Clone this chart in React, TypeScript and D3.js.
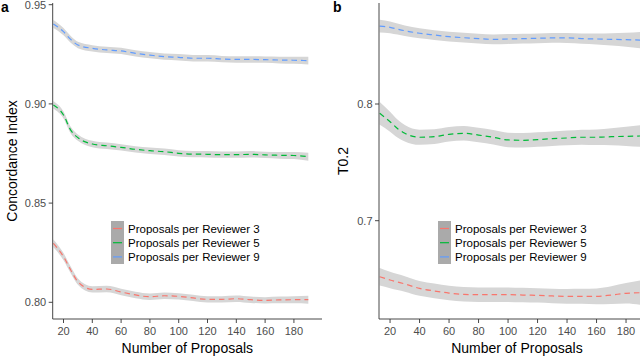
import React from "react";
import * as d3 from "d3";

// number of proposals (x) at which the smoothed curves were read
const proposals = [13, 20, 25, 30, 40, 50, 60, 70, 80, 90, 100, 110, 120, 130, 140, 150, 160, 170, 180, 190];

// panel a: concordance index
const ciR3 = [0.8297, 0.823, 0.8163, 0.8104, 0.8065, 0.8067, 0.8052, 0.8037, 0.8028, 0.8033, 0.803, 0.8022, 0.8015, 0.8015, 0.8018, 0.8013, 0.801, 0.8012, 0.8013, 0.8013];
const ciR5 = [0.8995, 0.8944, 0.8868, 0.883, 0.8798, 0.8789, 0.8781, 0.8771, 0.8764, 0.8759, 0.8751, 0.8747, 0.8746, 0.8744, 0.8744, 0.8746, 0.8743, 0.8741, 0.874, 0.8734];
const ciR9 = [0.9403, 0.9364, 0.9325, 0.9297, 0.928, 0.9272, 0.9267, 0.9255, 0.9246, 0.9238, 0.9235, 0.923, 0.923, 0.9226, 0.9224, 0.9224, 0.9223, 0.9221, 0.922, 0.9218];
const ciSe = [0.002, 0.0018, 0.0017, 0.0016, 0.0016, 0.0016, 0.0016, 0.0016, 0.0016, 0.0016, 0.0016, 0.0016, 0.0016, 0.0016, 0.0016, 0.0016, 0.0016, 0.0017, 0.0018, 0.002];

// panel b: T0.2
const tR3 = [0.652, 0.6492, 0.6475, 0.6458, 0.642, 0.6398, 0.638, 0.6369, 0.6366, 0.6366, 0.6366, 0.6363, 0.636, 0.6355, 0.6352, 0.6352, 0.6352, 0.6363, 0.6378, 0.6383];
const tR3Se = [0.0075, 0.007, 0.0068, 0.0066, 0.0064, 0.0063, 0.0062, 0.0062, 0.0062, 0.0062, 0.0062, 0.0062, 0.0062, 0.0062, 0.0063, 0.0064, 0.0068, 0.0076, 0.0088, 0.0105];
const tR5 = [0.792, 0.7848, 0.779, 0.7749, 0.7715, 0.772, 0.774, 0.7749, 0.7734, 0.7715, 0.7692, 0.7689, 0.7695, 0.7703, 0.7709, 0.7715, 0.7715, 0.772, 0.7723, 0.7726];
const tR5Se = [0.0098, 0.0085, 0.0077, 0.007, 0.0065, 0.0063, 0.0062, 0.0062, 0.0062, 0.0062, 0.0062, 0.0062, 0.0062, 0.0062, 0.0063, 0.0064, 0.0067, 0.0073, 0.0082, 0.0093];
const tR9 = [0.8668, 0.8657, 0.8642, 0.8628, 0.8606, 0.8591, 0.8577, 0.8568, 0.856, 0.8554, 0.8557, 0.856, 0.8563, 0.8566, 0.8566, 0.856, 0.8557, 0.8554, 0.8551, 0.8548];
const tR9Se = [0.0055, 0.005, 0.0047, 0.0045, 0.0043, 0.0042, 0.0042, 0.0042, 0.0042, 0.0042, 0.0042, 0.0042, 0.0042, 0.0042, 0.0043, 0.0044, 0.0047, 0.0053, 0.006, 0.007];

const seriesNames = ["Proposals per Reviewer 3", "Proposals per Reviewer 5", "Proposals per Reviewer 9"];
const seriesColors = ["#F8766D", "#00BA38", "#619CFF"];
const xTicks = [20, 40, 60, 80, 100, 120, 140, 160, 180];
const ciTicks = [0.8, 0.85, 0.9, 0.95];
const tTicks = [0.7, 0.8];

const FONT = "'Liberation Sans', Arial, sans-serif";

function Panel(props) {
  const { left, right, top, bottom, yDomain, yTicks, yFormat, yTitle, letter, letterX, titleX, series, legendX } = props;
  const x = d3.scaleLinear().domain([12.5, 199.5]).range([left, right]);
  const y = d3.scaleLinear().domain(yDomain).range([bottom, top]);

  const line = d3.line().x((d) => x(d[0])).y((d) => y(d[1])).curve(d3.curveMonotoneX);
  const area = d3
    .area()
    .x((d) => x(d[0]))
    .y0((d) => y(d[1] - d[2]))
    .y1((d) => y(d[1] + d[2]))
    .curve(d3.curveMonotoneX);

  const midX = (left + right) / 2;
  return (
    <g>
      {series.map((s, i) => {
        const pts = proposals.map((p, j) => [p, s.values[j], s.se[j]]);
        return <path key={"r" + i} d={area(pts)} fill="#d6d6d6" />;
      })}
      {series.map((s, i) => {
        const pts = proposals.map((p, j) => [p, s.values[j]]);
        return (
          <path key={"l" + i} d={line(pts)} fill="none" stroke={seriesColors[i]} strokeWidth={1.2} strokeDasharray="5.5,4" />
        );
      })}
      <line x1={left} x2={left} y1={top} y2={bottom} stroke="#333" strokeWidth={0.9} />
      <line x1={left} x2={right} y1={bottom} y2={bottom} stroke="#333" strokeWidth={0.9} />
      {yTicks.map((t) => (
        <g key={t} transform={`translate(${left},${y(t)})`}>
          <line x1={-4} x2={0} stroke="#333" strokeWidth={0.9} />
          <text x={-6.5} dy="0.35em" textAnchor="end" fontSize={11} fill="#4d4d4d" fontFamily={FONT}>
            {yFormat(t)}
          </text>
        </g>
      ))}
      {xTicks.map((t) => (
        <g key={t} transform={`translate(${x(t)},${bottom})`}>
          <line y1={0} y2={4} stroke="#333" strokeWidth={0.9} />
          <text y={16} textAnchor="middle" fontSize={11} fill="#4d4d4d" fontFamily={FONT}>
            {t}
          </text>
        </g>
      ))}
      <text x={midX} y={353} textAnchor="middle" fontSize={14} fill="#000" fontFamily={FONT}>
        Number of Proposals
      </text>
      <text
        transform={`translate(${titleX},${(top + bottom) / 2}) rotate(-90)`}
        textAnchor="middle"
        fontSize={14}
        fill="#000"
        fontFamily={FONT}
      >
        {yTitle}
      </text>
      <text x={letterX} y={12} fontSize={14} fontWeight="bold" fill="#000" fontFamily={FONT}>
        {letter}
      </text>
      <g transform={`translate(${legendX},221)`}>
        <rect x={0} y={0} width={13} height={43} fill="#aaaaaa" />
        {seriesNames.map((n, i) => (
          <g key={n} transform={`translate(0,${7.5 + i * 14.2})`}>
            <line x1={2} x2={11} stroke={seriesColors[i]} strokeWidth={1.2} />
            <text x={17} dy="0.35em" fontSize={11.5} fill="#000" fontFamily={FONT}>
              {n}
            </text>
          </g>
        ))}
      </g>
    </g>
  );
}

export default function App() {
  const fmt2 = d3.format(".2f");
  const fmt1 = d3.format(".1f");
  return (
    <svg width={640} height={358} style={{ position: "absolute", left: 0, top: 0, background: "#fff" }}>
      <Panel
        left={52.7}
        right={322}
        top={3}
        bottom={319}
        yDomain={[0.80 - (319 - 302.3) / 1984, 0.95 + (4.7 - 3) / 1984]}
        yTicks={ciTicks}
        yFormat={fmt2}
        yTitle="Concordance Index"
        letter="a"
        letterX={1}
        titleX={17}
        legendX={111}
        series={[
          { values: ciR3, se: ciSe },
          { values: ciR5, se: ciSe },
          { values: ciR9, se: ciSe },
        ]}
      />
      <Panel
        left={379}
        right={654.8}
        top={3}
        bottom={319}
        yDomain={[0.7 - (319 - 220.7) / 1167, 0.8 + (104 - 3) / 1167]}
        yTicks={tTicks}
        yFormat={fmt1}
        yTitle="T0.2"
        letter="b"
        letterX={333}
        titleX={348}
        legendX={438}
        series={[
          { values: tR3, se: tR3Se },
          { values: tR5, se: tR5Se },
          { values: tR9, se: tR9Se },
        ]}
      />
    </svg>
  );
}
